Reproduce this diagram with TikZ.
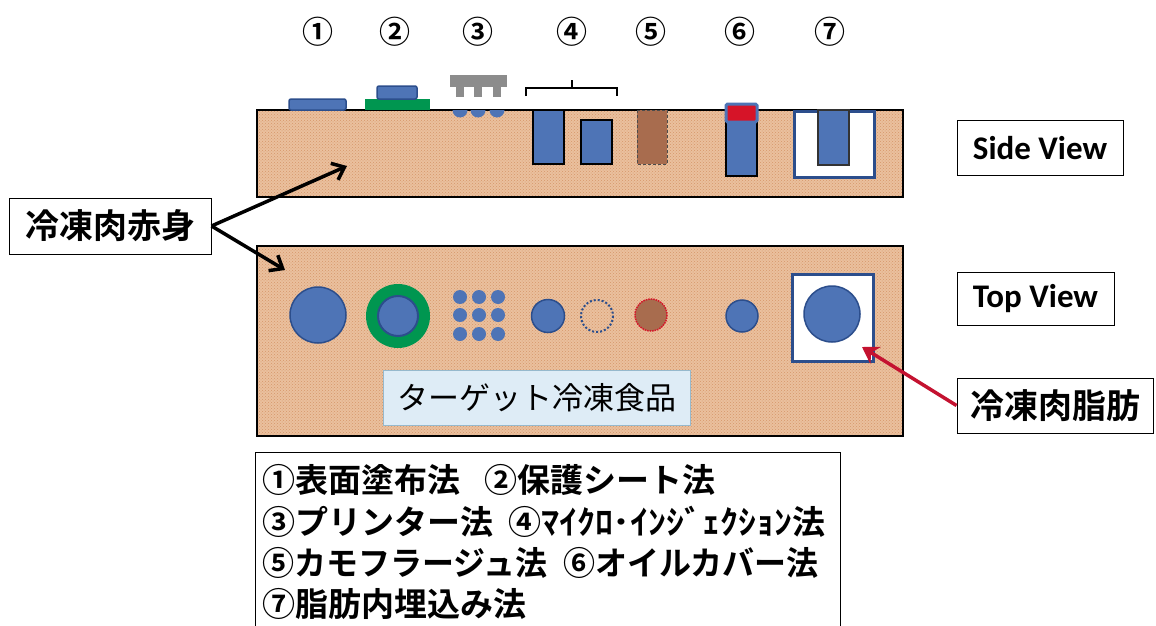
\documentclass[tikz,border=0pt]{standalone}
\usepackage{fontspec}
\setmainfont{Carlito}
\newfontfamily\jp{Noto Sans CJK JP}
\newfontfamily\jpb{Noto Sans CJK JP Bold}
\usetikzlibrary{arrows.meta,patterns}
\definecolor{meatc}{RGB}{234,192,158}
\definecolor{meatdot}{RGB}{214,150,105}
\definecolor{objblue}{RGB}{78,116,182}
\definecolor{objedge}{RGB}{44,78,140}
\definecolor{grn}{RGB}{0,150,80}
\definecolor{gry}{RGB}{140,140,140}
\definecolor{redc}{RGB}{214,20,40}
\definecolor{brn}{RGB}{168,108,78}
\definecolor{lblue}{RGB}{222,236,246}
\definecolor{lbedge}{RGB}{150,185,205}
\definecolor{arrred}{RGB}{196,18,48}
\begin{document}
\begin{tikzpicture}[x=1pt,y=-1pt,
  meat/.style={fill=meatc,draw=black,line width=1.3pt},
  meatdots/.style={pattern=crosshatch dots,pattern color=meatdot},
  obj/.style={fill=objblue,draw=objedge,line width=1.5pt},
  lab/.style={draw=black,line width=1pt,fill=white,inner sep=0pt},
  num/.style={font=\jpb\fontsize{31}{31}\selectfont,inner sep=0pt},
  leg/.style={font=\jpb\fontsize{33}{33}\selectfont,anchor=west,inner sep=0pt},
  blk/.style={line width=3.5pt,-{Straight Barb[length=11pt,width=18pt,line width=3.5pt]}},
  redarr/.style={line width=3.5pt,draw=arrred,-{Stealth[length=16pt,width=20pt]}}
]
\useasboundingbox[fill=white] (0,0) rectangle (1156,626);

% circled numbers
\foreach \x/\t [count=\i] in {318/①,395/②,478/③,572/④,651/⑤,740/⑥,830/⑦}
  \node[num] (n\i) at (\x,32) {\t};

% ---------------- Side view ----------------
\path[meat] (257,110) rectangle (903,197);
\path[meatdots] (257,110) rectangle (903,197);
\draw[meat,fill=none] (257,110) rectangle (903,197);
% 1
\draw[obj,rounded corners=2pt] (289,99) rectangle (346,110);
% 2
\fill[grn] (365,99) rectangle (430,110);
\draw[obj,rounded corners=2pt] (377,86) rectangle (417,99);
% 3
\fill[gry] (450,75) rectangle (507,87);
\foreach \x in {460,478,497} {
  \fill[gry] (\x-4,87) rectangle (\x+4,97);
  \fill[objblue] (\x-7.5,110) arc[start angle=180,end angle=0,radius=7.5] -- cycle;
}
% 4
\draw[line width=1.2pt] (526,96) -- (526,88) -- (617,88) -- (617,96);
\draw[line width=1.2pt] (572,88) -- (572,80);
\draw[obj,draw=black,line width=1.2pt] (533,110) rectangle (564,164);
\draw[obj,draw=black,line width=1.2pt] (581,120) rectangle (612,164);
% 5
\draw[fill=brn,draw=black!70,line width=1pt,densely dashed] (637,110) rectangle (667,164);
% 6
\draw[obj,draw=black,line width=1.2pt] (726,122) rectangle (757,176);
\draw[fill=redc,draw=objblue,line width=3pt,rounded corners=1.5pt] (726,104) rectangle (757,122);
% 7
\draw[fill=white,draw=objedge,line width=3pt] (794,111) rectangle (874,177);
\draw[obj,draw=black!80,line width=1.2pt] (818,110) rectangle (849,165);

% ---------------- Top view ----------------
\path[meat] (257,246) rectangle (903,436);
\path[meatdots] (257,246) rectangle (903,436);
\draw[meat,fill=none] (257,246) rectangle (903,436);
\draw[obj] (318,315) circle[radius=28];
\fill[grn] (398,316) circle[radius=32];
\draw[obj,line width=2pt] (398,316) circle[radius=20];
\foreach \x in {460,479,498}
  \foreach \y in {297,315,334}
    \fill[objblue] (\x,\y) circle[radius=7];
\draw[obj] (548,316) circle[radius=16.5];
\draw[objedge,line width=2pt,dotted] (597,316) circle[radius=16];
\draw[fill=brn,draw=redc,line width=1.5pt,densely dotted] (651,315) circle[radius=16];
\draw[obj] (742,316) circle[radius=16];
\draw[fill=white,draw=objedge,line width=3pt] (792,274) rectangle (873,361);
\draw[obj] (832,314) circle[radius=28];
\coordinate (fat) at (862,347);

% target label
\node[draw=lbedge,line width=1pt,fill=lblue,minimum width=307pt,minimum height=55pt,
      font=\jp\fontsize{31}{31}\selectfont] (target) at (536.5,397.5) {ターゲット冷凍食品};

% ---------------- Labels ----------------
\node[lab,minimum width=202pt,minimum height=56pt,font=\jpb\fontsize{34}{34}\selectfont] (lean) at (110,226) {冷凍肉赤身};
\coordinate (sideT) at (347,166);
\coordinate (topT) at (285,270);
\draw[blk] (lean.east) -- (sideT);
\draw[blk] (lean.east) -- (topT);

\node[lab,minimum width=166pt,minimum height=55pt,font=\bfseries\fontsize{33}{33}\selectfont] (side) at (1040,148) {Side View};
\node[lab,minimum width=157pt,minimum height=53pt,font=\bfseries\fontsize{33}{33}\selectfont] (top) at (1035.5,298.5) {Top View};
\node[lab,minimum width=196pt,minimum height=55pt,font=\jpb\fontsize{34}{34}\selectfont] (fatlab) at (1055,405.5) {冷凍肉脂肪};
\draw[redarr] (fatlab.west) -- (fat);

% ---------------- Legend ----------------
\draw[line width=1pt] (255,630) -- (255,452) -- (840,452) -- (840,630);
\node[leg] (l1) at (262,480) {①表面塗布法\hspace{0.75em}②保護シート法};
\node[leg] (l2) at (262,522) {③プリンター法\hspace{0.45em}④\scalebox{1.09}[1]{ﾏｲｸﾛ･ｲﾝｼﾞｪｸｼｮﾝ}法};
\node[leg] (l3) at (262,563) {\scalebox{0.97}[1]{⑤カモフラージュ法\hspace{0.5em}⑥オイルカバー法}};
\node[leg] (l4) at (262,604) {⑦脂肪内埋込み法};
\end{tikzpicture}
\end{document}
